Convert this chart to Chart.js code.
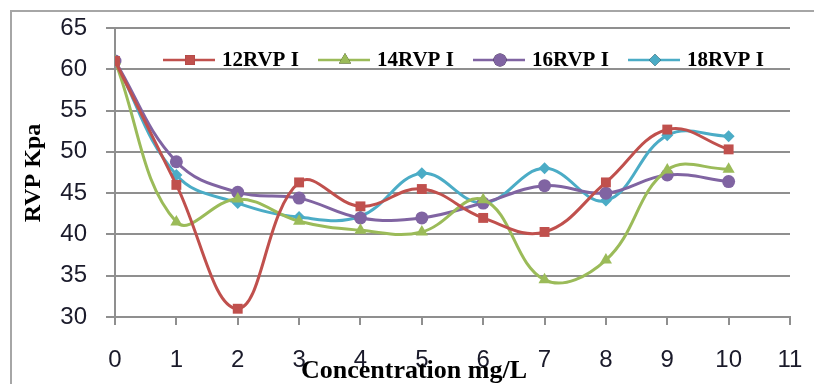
<!DOCTYPE html>
<html>
<head>
<meta charset="utf-8">
<script src="https://cdn.jsdelivr.net/npm/chart.js@4/dist/chart.umd.min.js"></script>
<style>
  html, body { margin: 0; padding: 0; background: #fff; }
  #wrap { width: 814px; height: 384px; position: relative; }
</style>
</head>
<body>
<div id="wrap"><canvas id="c" width="814" height="384"></canvas></div>
<script>
// ---- Data ----
const concentrations = [0, 1, 2, 3, 4, 5, 6, 7, 8, 9, 10];
const seriesNames = ["12RVP I", "14RVP I", "16RVP I", "18RVP I"];
const rvp12 = [61, 46.0, 31.0, 46.3, 43.4, 45.5, 42.0, 40.3, 46.3, 52.7, 50.3];
const rvp14 = [61, 41.5, 44.3, 41.6, 40.5, 40.3, 44.2, 34.5, 36.9, 47.8, 47.9];
const rvp16 = [61, 48.8, 45.1, 44.4, 42.0, 42.0, 43.8, 45.9, 45.0, 47.2, 46.4];
const rvp18 = [61, 47.2, 43.8, 42.1, 42.2, 47.4, 43.8, 48.0, 44.1, 52.0, 51.9];
const xTicks = [0, 1, 2, 3, 4, 5, 6, 7, 8, 9, 10, 11];
const yTicks = [30, 35, 40, 45, 50, 55, 60, 65];
const xTitle = "Concentration mg/L";
const yTitle = "RVP Kpa";

// ---- Styles ----
const colors = ["#C0504D", "#9BBB59", "#8064A2", "#4BACC6"];
const markers = ["rect", "triangle", "circle", "rectRot"];
const radii = [7, 7, 6.5, 6];
const allValues = [rvp12, rvp14, rvp16, rvp18];

const datasets = allValues.map((vals, i) => ({
  label: seriesNames[i],
  data: concentrations.map((c, k) => ({ x: c, y: vals[k] })),
  borderColor: colors[i],
  backgroundColor: colors[i],
  borderWidth: 3,
  pointStyle: markers[i],
  pointRadius: radii[i],
  pointBorderWidth: 0,
  pointBackgroundColor: colors[i],
  tension: 0.4,
  fill: false
}));

const GRID = "#8f8f8f";

const decor = {
  id: "decor",
  beforeDraw(chart) {
    const ctx = chart.ctx;
    ctx.save();
    ctx.fillStyle = "#fff";
    ctx.fillRect(0, 0, chart.width, chart.height);
    ctx.strokeStyle = "#a6a6a6";
    ctx.lineWidth = 2;
    ctx.beginPath();
    ctx.moveTo(11, 400);
    ctx.lineTo(11, 11);
    ctx.lineTo(830, 11);
    ctx.stroke();
    ctx.restore();
  },
  afterDraw(chart) {
    const ctx = chart.ctx;
    ctx.save();
    // Legend inside plot
    const lx0 = 163, ly = 60, step = 155;
    ctx.font = "bold 21px 'Liberation Serif', 'Times New Roman', serif";
    ctx.textBaseline = "middle";
    chart.data.datasets.forEach((ds, i) => {
      const x = lx0 + i * step;
      ctx.strokeStyle = ds.borderColor;
      ctx.lineWidth = 2.5;
      ctx.beginPath();
      ctx.moveTo(x, ly);
      ctx.lineTo(x + 52, ly);
      ctx.stroke();
      Chart.helpers.drawPoint(ctx, {
        pointStyle: ds.pointStyle,
        radius: ds.pointRadius,
        borderWidth: 0,
        rotation: 0
      }, x + 27, ly);
      ctx.fillStyle = ds.backgroundColor;
      ctx.fill();
      ctx.fillStyle = "#000";
      ctx.textAlign = "left";
      ctx.fillText(ds.label, x + 59, ly + 1);
    });
    // X title
    ctx.font = "bold 26px 'Liberation Serif', 'Times New Roman', serif";
    ctx.textAlign = "center";
    ctx.textBaseline = "alphabetic";
    ctx.fillStyle = "#000";
    ctx.fillText(xTitle, 414, 378);
    // Y title
    ctx.translate(40, 173);
    ctx.rotate(-Math.PI / 2);
    ctx.font = "bold 24px 'Liberation Serif', 'Times New Roman', serif";
    ctx.textAlign = "center";
    ctx.textBaseline = "alphabetic";
    ctx.fillText(yTitle, 0, 0);
    ctx.restore();
  }
};

new Chart(document.getElementById("c"), {
  type: "line",
  data: { datasets },
  options: {
    responsive: false,
    animation: false,
    layout: { padding: { top: 28, right: 24, left: 0, bottom: 0 } },
    plugins: { legend: { display: false }, tooltip: { enabled: false } },
    scales: {
      x: {
        type: "linear",
        min: 0, max: 11,
        afterBuildTicks: (s) => { s.ticks = xTicks.map(v => ({ value: v })); },
        afterFit: (s) => { s.height = 67; },
        ticks: {
          padding: 10,
          color: "#1a1a2a",
          font: { family: "'Liberation Sans', Arial, sans-serif", size: 24, lineHeight: 2.1 }
        },
        grid: { drawOnChartArea: false, drawTicks: true, tickLength: 8, color: GRID, lineWidth: 2 },
        border: { display: true, color: GRID, width: 2 }
      },
      y: {
        min: 30, max: 65,
        afterBuildTicks: (s) => { s.ticks = yTicks.map(v => ({ value: v })); },
        afterFit: (s) => { s.width = 115; },
        ticks: {
          padding: 19,
          color: "#1a1a2a",
          font: { family: "'Liberation Sans', Arial, sans-serif", size: 24, lineHeight: 0.5 }
        },
        grid: { drawOnChartArea: true, drawTicks: true, tickLength: 9, color: GRID, lineWidth: 2 },
        border: { display: true, color: GRID, width: 2 }
      }
    }
  },
  plugins: [decor]
});
</script>
</body>
</html>
